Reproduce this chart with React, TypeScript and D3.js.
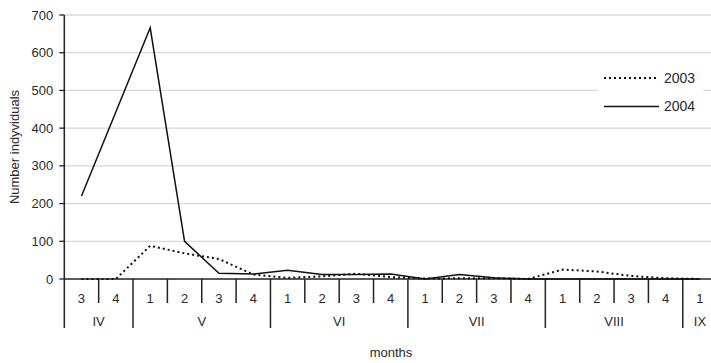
import React from 'react'
import * as d3 from 'd3'

// week-of-month labels along the x axis
const weekLabels = ['3', '4', '1', '2', '3', '4', '1', '2', '3', '4', '1', '2', '3', '4', '1', '2', '3', '4', '1']
// months and how many weeks each spans
const monthLabels = ['IV', 'V', 'VI', 'VII', 'VIII', 'IX']
const monthWeeks = [2, 4, 4, 4, 4, 1]

const values2003 = [0, 0, 88, 68, 53, 12, 3, 7, 14, 5, 1, 2, 2, 0, 25, 20, 8, 2, 0]
const values2004 = [220, 443, 666, 100, 15, 13, 23, 12, 12, 13, 0, 12, 3, 0, 0, 0, 0, 0, 0]

const yTicks = [0, 100, 200, 300, 400, 500, 600, 700]

export default function App() {
  const w = 711
  const h = 363
  const left = 64.3
  const font = 'Liberation Sans, Arial, sans-serif'
  const ink = '#2a2a2a'

  const x = d3.scaleBand<number>()
    .domain(weekLabels.map((_, i) => i))
    .range([left, left + 19 * 34.36])
    .padding(0)
  const y = d3.scaleLinear().domain([0, 700]).range([279, 15])
  const cx = (i: number) => (x(i) as number) + x.bandwidth() / 2

  const line = d3.line<number>()
    .x((_, i) => cx(i))
    .y(d => y(d))

  // start index of each month
  const monthStarts: number[] = []
  monthWeeks.reduce((acc, n) => { monthStarts.push(acc); return acc + n }, 0)

  return (
    <svg width={w} height={h} style={{ position: 'absolute', left: 0, top: 0, background: '#fff' }}
      fontFamily={font} fontSize={13}>
      {/* gridlines */}
      {yTicks.filter(t => t > 0).map(t => (
        <line key={t} x1={left} x2={w} y1={y(t)} y2={y(t)} stroke="#d9d9d9" strokeWidth={1.3} />
      ))}

      {/* y axis */}
      <line x1={left} x2={left} y1={y(700)} y2={328} stroke="#222" strokeWidth={1.5} />
      {yTicks.map(t => (
        <g key={t}>
          <line x1={left - 5} x2={left} y1={y(t)} y2={y(t)} stroke="#222" strokeWidth={1.3} />
          <text x={left - 11} y={y(t)} dy="0.35em" textAnchor="end" fill={ink}>{t}</text>
        </g>
      ))}
      <text transform={`translate(19,147) rotate(-90)`} textAnchor="middle" fill={ink}>Number indyviduals</text>

      {/* x axis */}
      <line x1={left} x2={w} y1={y(0)} y2={y(0)} stroke="#222" strokeWidth={1.5} />
      {weekLabels.map((lab, i) => {
        const isMonth = monthStarts.includes(i)
        return (
          <g key={i}>
            {i > 0 && (
              <line x1={x(i)} x2={x(i)} y1={y(0)} y2={isMonth ? 328 : 303} stroke="#222" strokeWidth={1.5} />
            )}
            <text x={cx(i)} y={298} dy="0.35em" textAnchor="middle" fill={ink}>{lab}</text>
          </g>
        )
      })}
      {monthLabels.map((m, k) => {
        const s = monthStarts[k]
        const e = s + monthWeeks[k] - 1
        const mid = ((x(s) as number) + (x(e) as number) + x.bandwidth()) / 2
        return (
          <text key={m} x={mid} y={321} dy="0.35em" textAnchor="middle" fill={ink}>{m}</text>
        )
      })}
      <text x={391} y={352} dy="0.35em" textAnchor="middle" fill={ink}>months</text>

      {/* series */}
      <path d={line(values2003) || ''} fill="none" stroke="#111" strokeWidth={2} strokeDasharray="2,3" />
      <path d={line(values2004) || ''} fill="none" stroke="#111" strokeWidth={1.5} />

      {/* legend */}
      <rect x={598} y={62} width={105} height={58} fill="#fff" />
      <line x1={604} x2={659} y1={78} y2={78} stroke="#111" strokeWidth={2} strokeDasharray="2,3" />
      <text x={664} y={78} dy="0.35em" fill={ink} fontSize={14}>2003</text>
      <line x1={604} x2={659} y1={106.5} y2={106.5} stroke="#111" strokeWidth={1.5} />
      <text x={664} y={106.5} dy="0.35em" fill={ink} fontSize={14}>2004</text>
    </svg>
  )
}
